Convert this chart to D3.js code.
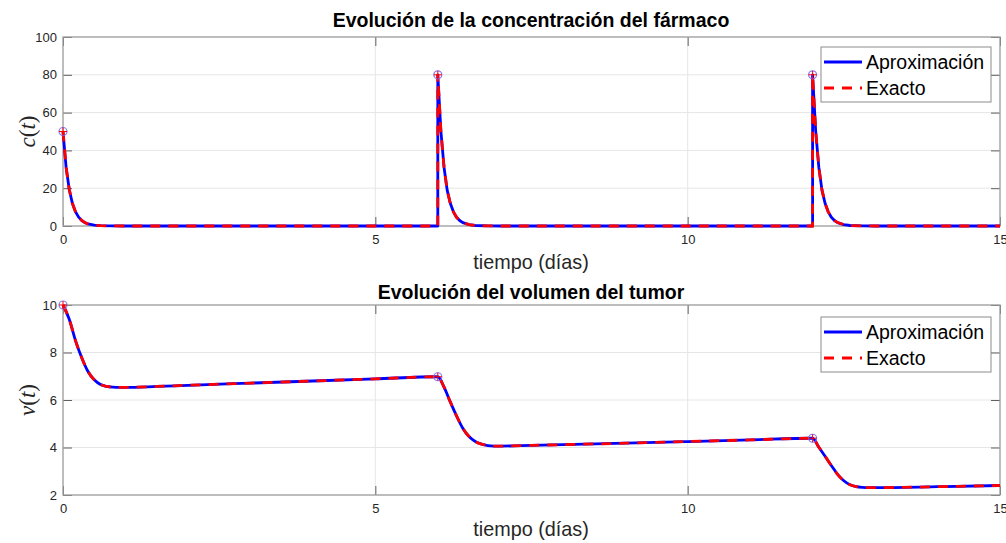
<!DOCTYPE html>
<html>
<head>
<meta charset="utf-8">
<script src="https://cdn.jsdelivr.net/npm/d3@7"></script>
<style>
  html, body { margin: 0; padding: 0; background: #fff; }
  svg { display: block; }
</style>
</head>
<body>
<svg id="chart" width="1006" height="543"></svg>
<script>
// ---------- data ----------
const concTime = [0, 0.05, 0.1, 0.15, 0.2, 0.25, 0.3, 0.35, 0.4, 0.5, 0.6, 0.8, 1.0,
  6.0, 6.0, 6.05, 6.1, 6.15, 6.2, 6.25, 6.3, 6.35, 6.4, 6.5, 6.6, 6.8, 7.0,
  12.0, 12.0, 12.05, 12.1, 12.15, 12.2, 12.25, 12.3, 12.35, 12.4, 12.5, 12.6, 12.8, 13.0, 15.0];
const concValue = [50, 31, 19.3, 12, 7.5, 4.7, 2.9, 1.8, 1.1, 0.43, 0.17, 0.02, 0,
  0, 80, 50, 31, 19, 12, 7.5, 4.6, 2.9, 1.8, 0.7, 0.27, 0.04, 0,
  0, 80, 50, 31, 19, 12, 7.5, 4.6, 2.9, 1.8, 0.7, 0.27, 0.04, 0, 0];

const volTime = [0, 0.1, 0.2, 0.3, 0.4, 0.5, 0.6, 0.7, 0.8, 0.9, 1.0, 1.5, 2, 3, 4, 5, 6,
  6.1, 6.2, 6.3, 6.4, 6.5, 6.6, 6.7, 6.8, 6.9, 7.0, 7.5, 8, 9, 10, 11, 12,
  12.1, 12.2, 12.3, 12.4, 12.5, 12.6, 12.7, 12.8, 12.9, 13.0, 14, 15];
const volValue = [10, 9.40, 8.50, 7.78, 7.20, 6.85, 6.65, 6.57, 6.54, 6.53, 6.53, 6.57, 6.62, 6.71, 6.80, 6.89, 6.98,
  6.54, 5.92, 5.33, 4.81, 4.46, 4.25, 4.14, 4.08, 4.06, 4.06, 4.09, 4.12, 4.18, 4.25, 4.32, 4.39,
  4.01, 3.63, 3.24, 2.87, 2.60, 2.43, 2.35, 2.32, 2.31, 2.31, 2.35, 2.40];

const concDoseTime = [0, 6, 12];
const concDoseValue = [50, 80, 80];
const volDoseTime = [0, 6, 12];
const volDoseValue = [10, 6.98, 4.39];

const xTicks = [0, 5, 10, 15];
const concTicks = [0, 20, 40, 60, 80, 100];
const volTicks = [2, 4, 6, 8, 10];
const seriesNames = ["Aproximación", "Exacto"];

// ---------- drawing ----------
const svg = d3.select("#chart");
const BLUE = "#0000ff", RED = "#ff0000";

function panel(opts) {
  const { top, bottom, left, right, yDomain, yTicks, title, titleY, xLabelY, yLabelLetter,
          tx, ty, dx, dy, legendTop } = opts;
  const x = d3.scaleLinear().domain([0, 15]).range([left, right]);
  const y = d3.scaleLinear().domain(yDomain).range([bottom, top]);
  const g = svg.append("g");

  // grid
  g.selectAll(".gx").data(xTicks).join("line")
    .attr("x1", d => x(d)).attr("x2", d => x(d)).attr("y1", top).attr("y2", bottom)
    .attr("stroke", "#e6e6e6").attr("stroke-width", 1);
  g.selectAll(".gy").data(yTicks).join("line")
    .attr("x1", left).attr("x2", right).attr("y1", d => y(d)).attr("y2", d => y(d))
    .attr("stroke", "#e6e6e6").attr("stroke-width", 1);

  // axes (ticks inward)
  const axB = d3.axisBottom(x).tickValues(xTicks).tickSize(-9).tickPadding(9).tickFormat(d3.format("d"));
  const axT = d3.axisTop(x).tickValues(xTicks).tickSize(-9).tickFormat("");
  const axL = d3.axisLeft(y).tickValues(yTicks).tickSize(-9).tickPadding(6).tickFormat(d3.format("d"));
  const axR = d3.axisRight(y).tickValues(yTicks).tickSize(-9).tickFormat("");
  const styleAx = sel => {
    sel.select(".domain").attr("stroke", "#a0a0a0").attr("stroke-width", 1.3);
    sel.selectAll(".tick line").attr("stroke", "#606060").attr("stroke-width", 1);
    sel.selectAll(".tick text").attr("fill", "#262626")
      .style("font-family", "'Liberation Sans', Arial, sans-serif").style("font-size", "13px");
  };
  g.append("g").attr("transform", `translate(0,${bottom})`).call(axB).call(styleAx);
  g.append("g").attr("transform", `translate(0,${top})`).call(axT).call(styleAx);
  g.append("g").attr("transform", `translate(${left},0)`).call(axL).call(styleAx);
  g.append("g").attr("transform", `translate(${right},0)`).call(axR).call(styleAx);
  g.selectAll(".domain").attr("d", null);
  // box
  g.append("rect").attr("x", left).attr("y", top).attr("width", right - left).attr("height", bottom - top)
    .attr("fill", "none").attr("stroke", "#a0a0a0").attr("stroke-width", 1.3);

  // lines
  const pts = tx.map((t, i) => [t, ty[i]]);
  const line = d3.line().x(d => x(d[0])).y(d => y(d[1])).curve(opts.curve || d3.curveLinear);
  g.append("path").attr("d", line(pts)).attr("fill", "none")
    .attr("stroke", BLUE).attr("stroke-width", 2.8).attr("stroke-linejoin", "round");
  g.append("path").attr("d", line(pts)).attr("fill", "none")
    .attr("stroke", RED).attr("stroke-width", 2.8).attr("stroke-dasharray", "10,8");

  // dose markers
  const mk = dx.map((t, i) => [t, dy[i]]);
  g.selectAll(".mc").data(mk).join("circle")
    .attr("cx", d => x(d[0])).attr("cy", d => y(d[1])).attr("r", 4)
    .attr("fill", "none").attr("stroke", "#7b68ee").attr("stroke-width", 1.2).attr("opacity", 0.9);
  g.selectAll(".mp").data(mk).join("path")
    .attr("d", d => `M${x(d[0]) - 4},${y(d[1])}H${x(d[0]) + 4}M${x(d[0])},${y(d[1]) - 4}V${y(d[1]) + 4}`)
    .attr("stroke", RED).attr("stroke-width", 1);

  // title
  svg.append("text").attr("x", 531).attr("y", titleY).attr("text-anchor", "middle")
    .style("font-family", "'Liberation Sans', Arial, sans-serif").style("font-size", "19.5px")
    .style("font-weight", "bold").attr("fill", "#000").text(title);
  // x label
  svg.append("text").attr("x", 531).attr("y", xLabelY).attr("text-anchor", "middle")
    .style("font-family", "'Liberation Sans', Arial, sans-serif").style("font-size", "19.8px")
    .attr("fill", "#262626").text("tiempo (días)");
  // y label
  const yl = svg.append("text")
    .attr("transform", `translate(35,${(top + bottom) / 2}) rotate(-90)`)
    .attr("text-anchor", "middle")
    .style("font-family", "'Liberation Serif', 'DejaVu Serif', serif").style("font-size", "23px")
    .attr("fill", "#262626");
  yl.append("tspan").style("font-style", "italic").text(yLabelLetter);
  yl.append("tspan").text("(");
  yl.append("tspan").style("font-style", "italic").text("t");
  yl.append("tspan").text(")");

  // legend
  const lg = svg.append("g");
  lg.append("rect").attr("x", 821).attr("y", legendTop).attr("width", 170).attr("height", 55)
    .attr("fill", "#fff").attr("stroke", "#8c8c8c").attr("stroke-width", 1);
  const rows = [legendTop + 15, legendTop + 41];
  seriesNames.forEach((name, i) => {
    lg.append("line").attr("x1", 824).attr("x2", 862).attr("y1", rows[i]).attr("y2", rows[i])
      .attr("stroke", i === 0 ? BLUE : RED).attr("stroke-width", 2.8)
      .attr("stroke-dasharray", i === 0 ? null : "10,8");
    lg.append("text").attr("x", 866).attr("y", rows[i] + 7)
      .style("font-family", "'Liberation Sans', Arial, sans-serif").style("font-size", "19.5px")
      .attr("fill", "#000").text(name);
  });
}

panel({ top: 37, bottom: 226, left: 63, right: 1000, yDomain: [0, 100], yTicks: concTicks,
  title: "Evolución de la concentración del fármaco", titleY: 27, xLabelY: 269, yLabelLetter: "c",
  tx: concTime, ty: concValue, dx: concDoseTime, dy: concDoseValue, legendTop: 47 });

panel({ top: 305, bottom: 495, left: 63, right: 1000, yDomain: [2, 10], yTicks: volTicks,
  title: "Evolución del volumen del tumor", titleY: 299, xLabelY: 536, yLabelLetter: "v",
  tx: volTime, ty: volValue, dx: volDoseTime, dy: volDoseValue, legendTop: 317,
  curve: d3.curveMonotoneX });
</script>
</body>
</html>
